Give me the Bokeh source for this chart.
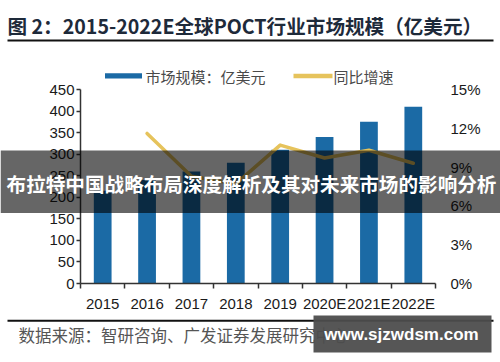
from bokeh.plotting import figure
from bokeh.models import (Range1d, LinearAxis, FixedTicker, ColumnDataSource)
from bokeh.core.properties import value
from bokeh.embed import file_html
from bokeh.resources import INLINE

# ---- data ----
years = ["2015", "2016", "2017", "2018", "2019", "2020E", "2021E", "2022E"]
market = [215, 240, 260, 280, 310, 340, 375, 410]          # 亿美元
growth = [None, 11.6, 8.3, 7.7, 10.7, 9.7, 10.3, 9.3]       # %
left_ticks = [0, 50, 100, 150, 200, 250, 300, 350, 400, 450]
right_ticks = [0, 3, 6, 9, 12, 15]
right_labels = ["0%", "3%", "6%", "9%", "12%", "15%"]
series_names = ["市场规模：亿美元", "同比增速"]

title_text = "图  2：2015-2022E全球POCT行业市场规模（亿美元）"
source_text = "数据来源：智研咨询、广发证券发展研究中心"
banner_text = "布拉特中国战略布局深度解析及其对未来市场的影响分析"
watermark_text = "www.sjzwdsm.com"

W, H = 500, 362
FL, FR, FT, FB = 80, 65, 89, 79

BLUE = "#1b6aa5"
GOLD = "#e6c35c"
AX = "#333333"
TXT = "#1a1a1a"
CJK = "Noto Sans CJK SC"

# ---------------- main chart ----------------
p = figure(width=W, height=H, x_range=Range1d(0, len(years)), y_range=Range1d(0, 450),
           output_backend="svg", toolbar_location=None,
           min_border_left=FL, min_border_right=FR, min_border_top=FT, min_border_bottom=FB,
           x_axis_type=None, y_axis_type=None,
           styles={"position": "absolute", "top": "0px", "left": "0px", "z-index": "0"})
p.outline_line_color = None
p.extra_y_ranges = {"pct": Range1d(0, 15)}

xs = [i + 0.5 for i in range(len(years))]
bar_src = ColumnDataSource(dict(x=xs, top=market, year=years))
bars = p.vbar(x="x", top="top", width=0.4, source=bar_src, fill_color=BLUE, line_color=None)

gx = [x for x, g in zip(xs, growth) if g is not None]
gy = [g for g in growth if g is not None]
line = p.line(gx, gy, y_range_name="pct", line_color=GOLD, line_width=3.5,
              line_cap="round", line_join="round")

xaxis = LinearAxis(ticker=FixedTicker(ticks=xs, minor_ticks=list(range(len(years) + 1))),
                   major_label_overrides={x: y for x, y in zip(xs, years)})
xaxis.major_tick_line_color = None
xaxis.major_tick_out = 0
xaxis.major_tick_in = 0
xaxis.minor_tick_out = 5
xaxis.minor_tick_in = 0
xaxis.minor_tick_line_color = AX
xaxis.minor_tick_line_width = 1.5
xaxis.axis_line_color = AX
xaxis.axis_line_width = 1.5
xaxis.major_label_text_font = "Liberation Sans"
xaxis.major_label_text_font_size = "15px"
xaxis.major_label_text_color = TXT
xaxis.major_label_standoff = 6
p.add_layout(xaxis, "below")

laxis = LinearAxis(ticker=FixedTicker(ticks=left_ticks, minor_ticks=[]))
laxis.axis_line_color = AX
laxis.axis_line_width = 1.5
laxis.major_tick_line_color = AX
laxis.major_tick_line_width = 1.5
laxis.major_tick_out = 4
laxis.major_tick_in = 0
laxis.minor_tick_line_color = None
laxis.major_label_text_font = "Liberation Sans"
laxis.major_label_text_font_size = "15px"
laxis.major_label_text_color = TXT
laxis.major_label_standoff = 2
p.add_layout(laxis, "left")

raxis = LinearAxis(y_range_name="pct", ticker=FixedTicker(ticks=right_ticks, minor_ticks=[]),
                   major_label_overrides={t: l for t, l in zip(right_ticks, right_labels)})
raxis.axis_line_color = None
raxis.major_tick_line_color = None
raxis.minor_tick_line_color = None
raxis.major_tick_out = 0
raxis.major_label_text_font = "Liberation Sans"
raxis.major_label_text_font_size = "15px"
raxis.major_label_text_color = TXT
raxis.major_label_standoff = 15
p.add_layout(raxis, "right")

# ---------------- overlay (decorations), stacked on top of the chart ----------------
ov = figure(width=W, height=H, x_range=Range1d(0, W), y_range=Range1d(H, 0),
            output_backend="svg", toolbar_location=None, min_border=0,
            x_axis_type=None, y_axis_type=None,
            styles={"position": "absolute", "top": "0px", "left": "0px", "z-index": "1"})
ov.outline_line_color = None
ov.background_fill_alpha = 0
ov.border_fill_alpha = 0

# title and rules
ov.text(x=[7], y=[25], text=[title_text], text_font=value(CJK), text_font_style="bold",
        text_font_size="19.6px", text_color="#1e2a3a", text_baseline="middle", text_align="left")
ov.quad(left=[7], right=[493], top=[39], bottom=[41], fill_color="#111111", line_color=None)
ov.quad(left=[7], right=[493], top=[319.3], bottom=[321.3], fill_color="#111111", line_color=None)
ov.text(x=[18], y=[334], text=[source_text], text_font=value(CJK), text_font_size="16.5px",
        text_color="#555555", text_baseline="middle", text_align="left")

# legend
ov.quad(left=[104.5], right=[141.5], top=[72.7], bottom=[78], fill_color=BLUE, line_color=None)
ov.segment(x0=[293], y0=[75.4], x1=[332], y1=[75.4], line_color=GOLD, line_width=4.5)
ov.text(x=[145, 333], y=[76, 76], text=series_names, text_font=value(CJK),
        text_font_size="15px", text_color="#4a4a4a", text_baseline="middle", text_align="left")

# overlay banner
ov.quad(left=[0], right=[W], top=[150], bottom=[212.5], fill_color="black", fill_alpha=0.6,
        line_color=None)
ov.text(x=[251], y=[183], text=[banner_text], text_font=value(CJK), text_font_style="bold",
        text_font_size="19.6px", text_color="white", text_baseline="middle", text_align="center")

# watermark
ov.quad(left=[313], right=[491], top=[315], bottom=[352], fill_color="#4d4d4d", fill_alpha=0.95,
        line_color=None)
ov.text(x=[401], y=[334], text=[watermark_text], text_font=value("Liberation Sans"),
        text_font_style="bold", text_font_size="17px", text_color="white",
        text_baseline="middle", text_align="center")

open("out.html", "w").write(file_html([p, ov], INLINE))
